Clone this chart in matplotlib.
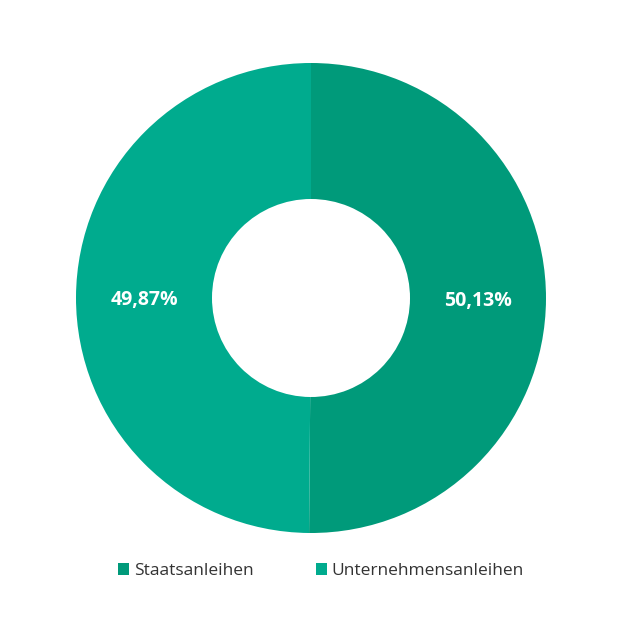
import matplotlib.pyplot as plt
from matplotlib.patches import Patch

# Daten
kategorien = ['Staatsanleihen', 'Unternehmensanleihen']
anteile = [50.13, 49.87]
beschriftungen = ['50,13%', '49,87%']
farben = ['#009a7a', '#00ab8e']

plt.rcParams['font.family'] = ['Open Sans', 'DejaVu Sans']

fig = plt.figure(figsize=(6.28, 6.28), dpi=100)
ax = fig.add_axes([0, 0, 1, 1])

wedges, texte = ax.pie(anteile, colors=farben, startangle=90, counterclock=False,
                       center=(311, 330), radius=235,
                       labels=beschriftungen, labeldistance=0.71,
                       wedgeprops=dict(width=136, edgecolor='none'),
                       textprops=dict(color='white', fontsize=14, fontweight='bold'))
for t in texte:
    t.set_horizontalalignment('center')
    t.set_verticalalignment('center_baseline')

# pie setzt eigene Grenzen, daher danach festlegen
ax.set_xlim(0, 628)
ax.set_ylim(0, 628)
ax.set_aspect('equal')
ax.axis('off')

handles = [Patch(facecolor=f, edgecolor='none', label=k) for f, k in zip(farben, kategorien)]
ax.legend(handles=handles, loc='center', bbox_to_anchor=(0.5 + 7 / 628, 57 / 628), ncol=2,
          frameon=False, fontsize=12.5, handlelength=0.65, handleheight=0.65,
          handletextpad=0.25, columnspacing=3.6, labelcolor='#333333')

plt.savefig('out.png', dpi=100)
plt.close()
